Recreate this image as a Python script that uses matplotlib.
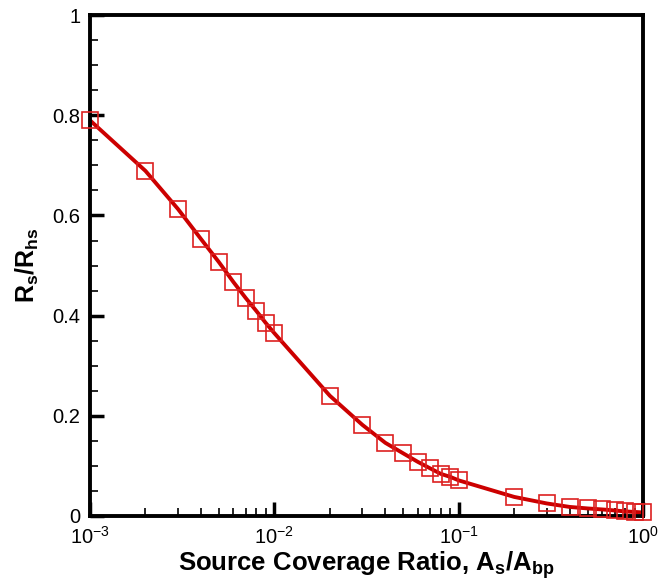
import matplotlib
matplotlib.use('Agg')
import matplotlib.pyplot as plt
import numpy as np
from matplotlib.ticker import LogLocator, MultipleLocator, FixedLocator, FuncFormatter

plt.rcParams['font.family'] = ['Liberation Sans', 'DejaVu Sans']
plt.rcParams['mathtext.fontset'] = 'custom'
plt.rcParams['mathtext.rm'] = 'Liberation Sans'
plt.rcParams['mathtext.it'] = 'Liberation Sans'
plt.rcParams['mathtext.bf'] = 'Liberation Sans:bold'
plt.rcParams['axes.unicode_minus'] = False

# source coverage ratio and resistance ratio
coverage = [0.001, 0.002, 0.003, 0.004, 0.005, 0.006, 0.007, 0.008, 0.009, 0.01,
            0.02, 0.03, 0.04, 0.05, 0.06, 0.07, 0.08, 0.09, 0.1,
            0.2, 0.3, 0.4, 0.5, 0.6, 0.7, 0.8, 0.9, 1.0]
ratio = [0.790, 0.689, 0.613, 0.553, 0.507, 0.467, 0.435, 0.409, 0.385, 0.365,
         0.240, 0.182, 0.146, 0.125, 0.108, 0.095, 0.084, 0.078, 0.071,
         0.038, 0.025, 0.018, 0.015, 0.013, 0.011, 0.009, 0.008, 0.007]

y_ticks = [0, 0.2, 0.4, 0.6, 0.8, 1.0]
y_ticklabels = ['0', '0.2', '0.4', '0.6', '0.8', '1']

fig = plt.figure(figsize=(6.63, 5.83), dpi=100)
ax = fig.add_axes([0.1357, 0.115, 0.8343, 0.859])

ax.plot(coverage, ratio, color='#cc0000', linewidth=2.8, zorder=2)
ax.plot(coverage, ratio, linestyle='none', marker='s', markersize=11,
        markerfacecolor='none', markeredgecolor='#dd2020', markeredgewidth=1.2,
        clip_on=False, zorder=3)

ax.set_xscale('log')
ax.set_xlim(1e-3, 1)
ax.set_ylim(0, 1)

ax.yaxis.set_major_locator(FixedLocator(y_ticks))
ax.set_yticklabels(y_ticklabels)
ax.yaxis.set_minor_locator(MultipleLocator(0.05))
ax.xaxis.set_major_locator(LogLocator(base=10))
ax.xaxis.set_minor_locator(LogLocator(base=10, subs=np.arange(2, 10)))
ax.xaxis.set_major_formatter(FuncFormatter(
    lambda v, p: r'$10^{%d}$' % int(round(np.log10(v)))))

for s in ax.spines.values():
    s.set_linewidth(2.8)

ax.tick_params(which='major', direction='in', length=10, width=2.5, labelsize=14.5)
ax.tick_params(axis='x', which='major', pad=7)
ax.tick_params(axis='y', which='major', pad=7)
ax.tick_params(which='minor', direction='in', length=6, width=1.2)
ax.tick_params(top=False, right=False)

ax.set_xlabel(r'Source Coverage Ratio, $\mathbf{A_s/A_{bp}}$', fontsize=18.5,
              fontweight='bold', labelpad=1)
ax.set_ylabel(r'$\mathbf{R_s/R_{hs}}$', fontsize=18, labelpad=8)

fig.savefig('out.png', dpi=100)
